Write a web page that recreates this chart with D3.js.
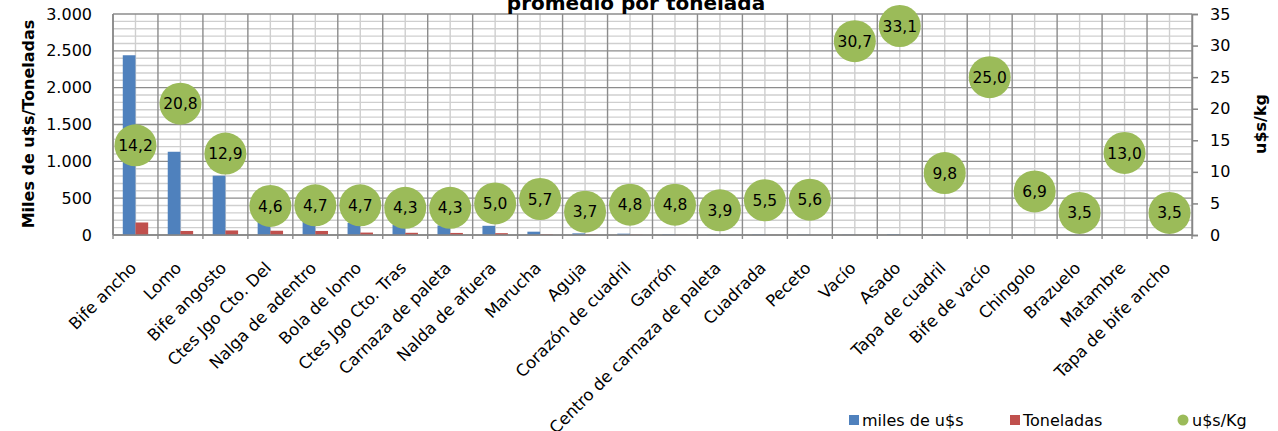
<!DOCTYPE html>
<html>
<head>
<meta charset="utf-8">
<script src="https://cdn.jsdelivr.net/npm/d3@7"></script>
<style>
  body { margin: 0; background: #fff; }
  svg { display: block; font-family: "DejaVu Sans", sans-serif; }
</style>
</head>
<body>
<svg width="1278" height="431"></svg>
<script>
// cortes y valores
var cortes = ["Bife ancho", "Lomo", "Bife angosto", "Ctes Jgo Cto. Del", "Nalga de adentro",
  "Bola de lomo", "Ctes Jgo Cto. Tras", "Carnaza de paleta", "Nalda de afuera", "Marucha",
  "Aguja", "Corazón de cuadril", "Garrón", "Centro de carnaza de paleta", "Cuadrada",
  "Peceto", "Vacío", "Asado", "Tapa de cuadril", "Bife de vacío", "Chingolo",
  "Brazuelo", "Matambre", "Tapa de bife ancho"];
var milesUSD = [2440, 1130, 805, 270, 255, 165, 140, 130, 125, 45, 22, 18, 8, 5, 6, 5, 4, 9, 5, 3, 3, 2, 2, 2];
var toneladas = [170, 55, 62, 58, 55, 33, 30, 28, 25, 8, 6, 4, 2, 1, 1, 1, 0.1, 0.3, 0.5, 0.1, 0.4, 0.6, 0.2, 0.6];
var precioKg = [14.2, 20.8, 12.9, 4.6, 4.7, 4.7, 4.3, 4.3, 5.0, 5.7, 3.7, 4.8, 4.8, 3.9, 5.5, 5.6,
  30.7, 33.1, 9.8, 25.0, 6.9, 3.5, 13.0, 3.5];
var ticksIzq = [0, 500, 1000, 1500, 2000, 2500, 3000];
var ticksMenores = [100, 200, 300, 400, 600, 700, 800, 900, 1100, 1200, 1300, 1400, 1600, 1700, 1800, 1900,
  2100, 2200, 2300, 2400, 2600, 2700, 2800, 2900];
var ticksDer = [0, 5, 10, 15, 20, 25, 30, 35];

var azul = "#4F81BD", rojo = "#C0504D", verde = "#9BBB59";

var svg = d3.select("svg"),
    pLeft = 113, pRight = 1192, pTop = 14, pBottom = 235;

var es = d3.formatLocale({decimal: ",", thousands: ".", grouping: [3], currency: ["$", ""]});
var fmtMiles = es.format(","),
    fmtPrecio = es.format(".1f");

var x = d3.scaleBand()
    .domain(cortes)
    .range([pLeft, pRight]);

var bw = x.bandwidth();

var xSerie = d3.scaleBand()
    .domain(["miles", "ton"])
    .range([bw / 2 - 12.7, bw / 2 + 12.7]);

var y = d3.scaleLinear()
    .domain([0, 3000])
    .range([pBottom, pTop]);

var y2 = d3.scaleLinear()
    .domain([0, 35])
    .range([pBottom, pTop]);

var grid = svg.append("g");

// grilla horizontal menor
grid.selectAll(".minor").data(ticksMenores).enter().append("line")
    .attr("x1", pLeft).attr("x2", pRight)
    .attr("y1", d => y(d)).attr("y2", d => y(d))
    .attr("stroke", "#CFCFCF").attr("stroke-width", 1.4);

// grilla vertical (centros)
grid.selectAll(".vmin").data(cortes).enter().append("line")
    .attr("x1", d => x(d) + bw / 2).attr("x2", d => x(d) + bw / 2)
    .attr("y1", pTop).attr("y2", pBottom)
    .attr("stroke", "#CFCFCF").attr("stroke-width", 1.4);

grid.selectAll(".major").data(ticksIzq).enter().append("line")
    .attr("x1", pLeft).attr("x2", pRight)
    .attr("y1", d => y(d)).attr("y2", d => y(d))
    .attr("stroke", "#8C8C8C").attr("stroke-width", 1.4);

// limites de categoria
grid.selectAll(".vmaj").data(cortes.concat(["__fin"])).enter().append("line")
    .attr("x1", (d, i) => i < cortes.length ? x(d) : pRight)
    .attr("x2", (d, i) => i < cortes.length ? x(d) : pRight)
    .attr("y1", pTop).attr("y2", pBottom + 4)
    .attr("stroke", "#8C8C8C").attr("stroke-width", 1.4);

// barras
svg.append("g").selectAll("rect").data(milesUSD).enter().append("rect")
    .attr("x", (d, i) => x(cortes[i]) + xSerie("miles"))
    .attr("y", d => y(d))
    .attr("width", xSerie.bandwidth())
    .attr("height", d => pBottom - y(d))
    .attr("fill", azul);

svg.append("g").selectAll("rect").data(toneladas).enter().append("rect")
    .attr("x", (d, i) => x(cortes[i]) + xSerie("ton"))
    .attr("y", d => y(d))
    .attr("width", xSerie.bandwidth())
    .attr("height", d => pBottom - y(d))
    .attr("fill", rojo);

// ejes
svg.append("line")
    .attr("x1", pLeft).attr("x2", pLeft).attr("y1", pTop).attr("y2", pBottom)
    .attr("stroke", "#868686").attr("stroke-width", 1.5);
svg.append("line")
    .attr("x1", pLeft).attr("x2", pRight).attr("y1", pBottom).attr("y2", pBottom)
    .attr("stroke", "#868686").attr("stroke-width", 1.5);

var ejeIzq = d3.axisLeft(y).tickValues(ticksIzq).tickSize(0).tickPadding(21).tickFormat(fmtMiles);
var gIzq = svg.append("g")
    .attr("transform", `translate(${pLeft},0)`)
    .call(ejeIzq);
gIzq.select(".domain").remove();
gIzq.selectAll("text").attr("font-size", 16).attr("fill", "#000").attr("font-family", "DejaVu Sans");

var ejeDer = d3.axisRight(y2).tickValues(ticksDer).tickSize(6).tickPadding(12);
var gDer = svg.append("g")
    .attr("transform", `translate(${pRight},0)`)
    .call(ejeDer);
gDer.select(".domain").attr("stroke", "#868686").attr("stroke-width", 1.5);
gDer.selectAll("line").attr("stroke", "#868686").attr("stroke-width", 1.5);
gDer.selectAll("text").attr("font-size", 16).attr("fill", "#000").attr("font-family", "DejaVu Sans");

// etiquetas de categorias
svg.append("g").selectAll("text").data(cortes).enter().append("text")
    .attr("transform", d => `translate(${x(d) + bw / 2 + 2},${pBottom + 34}) rotate(-45)`)
    .attr("text-anchor", "end")
    .attr("font-size", 16.5)
    .text(d => d);

// burbujas
var burb = svg.append("g").selectAll("g").data(precioKg).enter().append("g")
    .attr("transform", (d, i) => `translate(${x(cortes[i]) + bw / 2},${y2(d)})`);
burb.append("circle")
    .attr("r", 21)
    .attr("fill", verde);
burb.append("text")
    .attr("text-anchor", "middle")
    .attr("dy", "0.36em")
    .attr("font-size", 15.5)
    .text(d => fmtPrecio(d));

// titulos
svg.append("text")
    .attr("x", 636).attr("y", 10)
    .attr("text-anchor", "middle")
    .attr("font-size", 20).attr("font-weight", "bold")
    .text("promedio por tonelada");

svg.append("text")
    .attr("transform", "translate(34,124) rotate(-90)")
    .attr("text-anchor", "middle")
    .attr("font-size", 16).attr("font-weight", "bold")
    .text("Miles de u$s/Toneladas");

svg.append("text")
    .attr("transform", "translate(1266,124) rotate(-90)")
    .attr("text-anchor", "middle")
    .attr("font-size", 16).attr("font-weight", "bold")
    .text("u$s/kg");

// leyenda
var ley = svg.append("g").attr("font-size", 16);
ley.append("rect").attr("x", 849).attr("y", 415).attr("width", 10).attr("height", 10).attr("fill", azul);
ley.append("text").attr("x", 862).attr("y", 426).text("miles de u$s");
ley.append("rect").attr("x", 1010).attr("y", 415).attr("width", 10).attr("height", 10).attr("fill", rojo);
ley.append("text").attr("x", 1023).attr("y", 426).text("Toneladas");
ley.append("circle").attr("cx", 1183).attr("cy", 420).attr("r", 5.5).attr("fill", verde);
ley.append("text").attr("x", 1192).attr("y", 426).text("u$s/Kg");
</script>
</body>
</html>
